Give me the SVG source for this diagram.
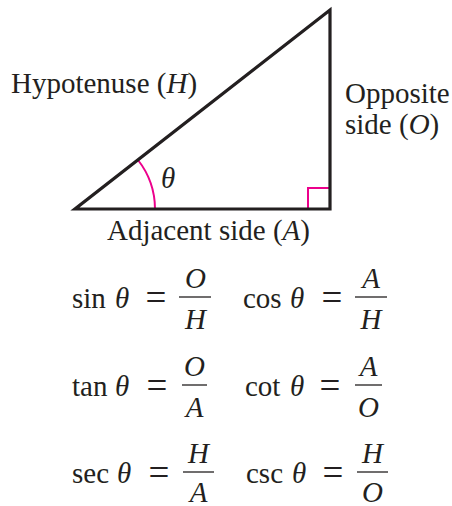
<svg xmlns="http://www.w3.org/2000/svg" width="452" height="506" viewBox="0 0 452 506">
<style>
text{font-family:"Liberation Serif","Times New Roman",serif;font-size:29px;fill:#231f20}
.i{font-style:italic}
.m{text-anchor:middle}
.eq{font-size:37px;text-anchor:middle}
.edge{fill:none;stroke:#231f20;stroke-width:3.2;stroke-linejoin:miter}
.mag{fill:none;stroke:#ec008c;stroke-width:2}
.bar{stroke:#231f20;stroke-width:1.3}
</style>
<rect width="452" height="506" fill="#fff"/>
<g id="triangle">
<path class="mag" d="M308,209 V188 H330"/>
<path class="mag" d="M138,160 A80,80 0 0 1 155,209"/>
<path class="edge" d="M75,209 L330,209 L330,10 Z"/>
<text class="i" x="161" y="188" font-size="27">θ</text>
</g>
<g id="labels">
<text x="11" y="93">Hypotenuse (<tspan class="i">H</tspan>)</text>
<text x="345" y="103">Opposite</text>
<text x="345" y="134">side (<tspan class="i">O</tspan>)</text>
<text x="107" y="240">Adjacent side (<tspan class="i">A</tspan>)</text>
</g>
<g id="sin">
<text x="72" y="308">sin</text><text class="i" x="115" y="308">θ</text>
<text class="eq" x="156" y="310">=</text>
<text class="i m" x="195.5" y="288">O</text>
<line class="bar" x1="179" y1="297" x2="211" y2="297"/>
<text class="i m" x="195.5" y="329">H</text>
</g>
<g id="cos">
<text x="243" y="308">cos</text><text class="i" x="290" y="308">θ</text>
<text class="eq" x="332" y="310">=</text>
<text class="i m" x="371" y="288">A</text>
<line class="bar" x1="355" y1="297" x2="387" y2="297"/>
<text class="i m" x="371" y="329">H</text>
</g>
<g id="tan">
<text x="72" y="396">tan</text><text class="i" x="115" y="396">θ</text>
<text class="eq" x="157" y="398">=</text>
<text class="i m" x="194.5" y="376">O</text>
<line class="bar" x1="182" y1="385" x2="207" y2="385"/>
<text class="i m" x="194.5" y="417">A</text>
</g>
<g id="cot">
<text x="245" y="396">cot</text><text class="i" x="290" y="396">θ</text>
<text class="eq" x="330" y="398">=</text>
<text class="i m" x="368.5" y="376">A</text>
<line class="bar" x1="355" y1="385" x2="382" y2="385"/>
<text class="i m" x="368.5" y="417">O</text>
</g>
<g id="sec">
<text x="72" y="483">sec</text><text class="i" x="117" y="483">θ</text>
<text class="eq" x="159" y="485">=</text>
<text class="i m" x="198.5" y="463">H</text>
<line class="bar" x1="183" y1="472" x2="214" y2="472"/>
<text class="i m" x="198.5" y="502">A</text>
</g>
<g id="csc">
<text x="246" y="483">csc</text><text class="i" x="292" y="483">θ</text>
<text class="eq" x="333" y="485">=</text>
<text class="i m" x="372.5" y="463">H</text>
<line class="bar" x1="357" y1="472" x2="388" y2="472"/>
<text class="i m" x="372.5" y="502">O</text>
</g>
</svg>
